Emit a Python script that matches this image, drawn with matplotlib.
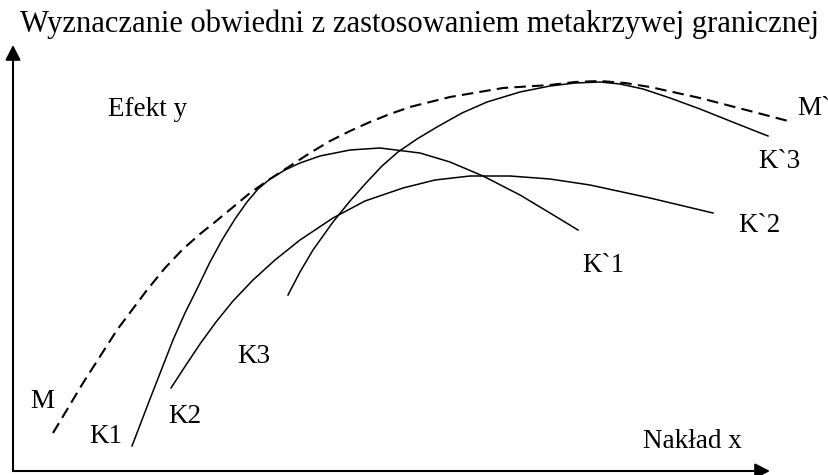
import matplotlib.pyplot as plt

plt.rcParams['font.family'] = ['Liberation Serif', 'DejaVu Serif']

# curve points (x = input, y = effect)
m_x = [40, 70, 104, 134, 152, 169, 187, 202, 219, 237, 257, 277, 297, 317, 337, 357, 377, 397,
       437, 490, 537, 562, 587, 612, 637, 687, 737, 779]
m_y = [38, 88, 141, 181, 203, 221, 237, 249, 263, 278, 292, 305, 318, 330, 340, 349, 357, 364,
       374, 383, 386, 389, 390, 388, 384, 373, 360, 349]

k1_x = [119, 137, 160, 172, 184, 197, 209, 222, 234, 245, 257, 272, 287, 307, 337, 367, 407, 437, 470, 507, 537, 565]
k1_y = [25, 72, 131, 158, 182, 209, 231, 252, 269, 282, 292, 301, 308, 315, 321, 323, 318, 309, 295, 276, 258, 241]

k2_x = [158, 173, 187, 203, 220, 240, 262, 287, 320, 352, 390, 422, 457, 497, 537, 577, 637, 700]
k2_y = [83, 106, 127, 149, 170, 191, 211, 231, 253, 270, 283, 291, 295, 295, 292, 286, 273, 258]

k3_x = [275, 287, 300, 320, 337, 353, 369, 385, 404, 424, 449, 474, 507, 537, 562, 587, 607, 630,
        657, 687, 722, 755]
k3_y = [176, 199, 221, 249, 270, 288, 305, 319, 332, 344, 358, 369, 379, 385, 388, 389, 387, 382,
        373, 362, 348, 335]

title = 'Wyznaczanie obwiedni z zastosowaniem metakrzywej granicznej'

fig = plt.figure(figsize=(8.29, 4.75), dpi=100)
ax = fig.add_axes([0, 0, 1, 1])
ax.set_xlim(-13, 816)
ax.set_ylim(-4, 471)
ax.axis('off')

# axes drawn as arrows
arrow = dict(arrowstyle='-|>,head_length=0.45,head_width=0.23', lw=1.5,
             color='black', mutation_scale=20, shrinkA=0, shrinkB=0)
ax.annotate('', xy=(0, 426), xytext=(0, 0), arrowprops=arrow)
ax.annotate('', xy=(757, 0), xytext=(0, 0), arrowprops=arrow)

ax.plot(m_x, m_y, color='black', lw=1.5, linestyle=(0, (5.5, 3)))
ax.plot(k1_x, k1_y, color='black', lw=1.1)
ax.plot(k2_x, k2_y, color='black', lw=1.1)
ax.plot(k3_x, k3_y, color='black', lw=1.1)

fs = 19.5
labels = [('Efekt y', 95, 355), ('M`', 784, 356), ('K`3', 745, 303),
          ('K`2', 725, 239), ('K`1', 569, 199), ('K3', 224, 108),
          ('M', 17, 63), ('K2', 155, 48), ('K1', 76, 28), ('Nakład x', 630, 23)]
for txt, x, y in labels:
    ax.text(x, y, txt, fontsize=fs, ha='left', va='baseline')

fig.text(20 / 829, 1 - 32 / 475, title, fontsize=22, ha='left', va='baseline')

fig.savefig('out.png', dpi=100)
